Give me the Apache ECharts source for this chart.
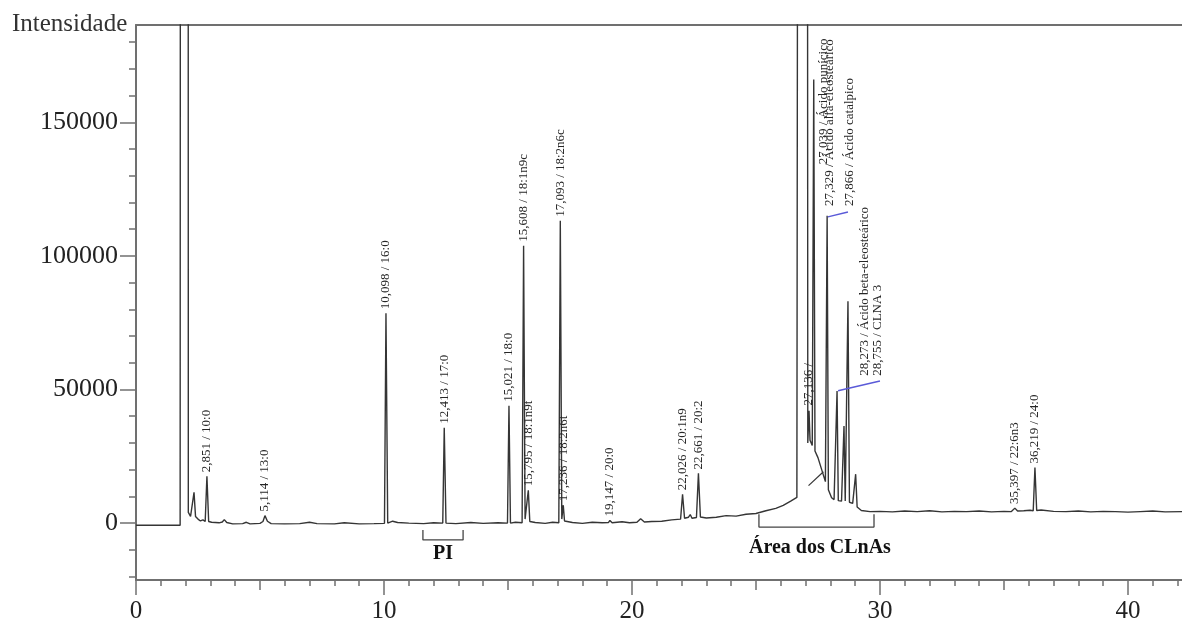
<!DOCTYPE html>
<html><head><meta charset="utf-8">
<script src="https://cdn.jsdelivr.net/npm/echarts@6/dist/echarts.min.js"></script>
<style>html,body{margin:0;padding:0;background:#fff}#c{width:1182px;height:624px}</style>
</head><body><div id="c"></div>
<script>
// ---- axis ticks / labels ----
const xLabels = [0, 10, 20, 30, 40];
const xMidTicks = [5, 15, 25, 35];
const xMinorTicks = [1,2,3,4,6,7,8,9,11,12,13,14,16,17,18,19,21,22,23,24,26,27,28,29,31,32,33,34,36,37,38,39,41,42];
const yLabels = [0, 50000, 100000, 150000];
const yMinorTicks = [-20000,-10000,10000,20000,30000,40000,60000,70000,80000,90000,110000,120000,130000,140000,160000,170000,180000];

// ---- chromatogram trace [retention time (min), intensity] ----
const trace = [
[0,-800],[1.78,-800],[1.80,-700],[1.815,1000000],[2.09,1000000],[2.11,4000],
[2.2,2500],[2.27,1800],[2.34,11500],[2.40,2500],[2.5,1500],[2.6,800],[2.7,1200],[2.79,600],[2.86,17500],[2.93,600],
[3.05,300],[3.2,200],[3.35,100],[3.48,400],[3.56,1300],[3.66,200],[3.9,-300],[4.3,-200],[4.45,300],[4.6,-300],
[5.0,-100],[5.12,600],[5.20,2800],[5.30,700],[5.45,-200],[6.0,-300],[6.6,-200],[7.0,300],[7.3,-200],[8.0,-300],
[8.4,100],[9.0,-300],[9.6,-200],[10.02,-100],[10.08,78500],[10.15,0],[10.35,700],[10.55,200],[11.0,0],[11.6,-200],
[12.0,100],[12.37,0],[12.43,35700],[12.50,0],[12.9,-200],[13.5,200],[14.0,-100],[14.6,100],[14.98,0],[15.04,43900],
[15.10,0],[15.30,300],[15.57,100],[15.63,103800],[15.69,1500],[15.76,1200],[15.82,12300],[15.88,600],[16.1,200],
[16.5,-100],[16.8,300],[17.05,100],[17.11,113100],[17.17,1500],[17.20,2000],[17.23,6700],[17.28,800],[17.6,200],
[18.0,-100],[18.4,300],[18.8,100],[19.05,200],[19.11,1000],[19.2,100],[19.6,500],[19.9,100],[20.2,300],[20.35,1600],
[20.5,400],[20.8,600],[21.2,700],[21.6,1200],[21.96,1500],[22.04,10800],[22.12,1800],[22.28,2200],[22.35,3200],
[22.42,1800],[22.6,2100],[22.68,18600],[22.76,2300],[23.0,1900],[23.4,2200],[23.8,2800],[24.2,2600],[24.6,3300],
[25.0,3600],[25.4,4600],[25.8,5500],[26.1,6600],[26.4,8200],[26.65,9600],[26.72,10200],[26.77,1000000],[27.04,1000000],
[27.09,30000],[27.14,42000],[27.18,31000],[27.27,29000],[27.33,166000],[27.38,27000],[27.5,24500],[27.65,20000],
[27.80,15500],[27.83,15000],[27.87,115000],[27.92,12500],[28.05,9500],[28.15,8800],[28.22,8600],[28.27,49400],
[28.32,8400],[28.45,8200],[28.50,8200],[28.55,36300],[28.60,8300],[28.65,8300],[28.71,83000],[28.77,7800],[28.9,7400],
[28.97,7000],[29.02,18300],[29.08,6000],[29.25,4700],[29.6,4300],[30.0,4400],[30.5,4200],[31.0,4500],[31.5,4300],
[32.0,4600],[32.5,4200],[33.0,4400],[33.5,4300],[34.0,4500],[34.5,4200],[35.0,4400],[35.3,4300],[35.44,5600],
[35.55,4500],[35.8,4600],[36.05,4800],[36.18,4600],[36.25,20800],[36.32,4700],[36.5,4900],[37.0,4400],[37.5,4300],
[38.0,4500],[38.5,4200],[39.0,4400],[39.5,4300],[40.0,4100],[40.5,4300],[41.0,4500],[41.5,4200],[42.18,4300]
];
// integration baseline under the large CLnA peak
const integrationLine = [[27.12,14000],[27.72,19200]];

// ---- peak labels anchored at peak apex [rt, intensity, text] ----
const apexLabels = [
[2.86,17500,'2,851 / 10:0'],
[5.20,2800,'5,114 / 13:0'],
[10.08,78500,'10,098 / 16:0'],
[12.43,35700,'12,413 / 17:0'],
[15.04,43900,'15,021 / 18:0'],
[15.63,103800,'15,608 / 18:1n9c'],
[15.82,12300,'15,795 / 18:1n9t'],
[17.11,113100,'17,093 / 18:2n6c'],
[17.23,6700,'17,236 / 18:2n6t'],
[19.11,1000,'19,147 / 20:0'],
[22.04,10800,'22,026 / 20:1n9'],
[22.68,18600,'22,661 / 20:2'],
[35.44,5600,'35,397 / 22:6n3'],
[36.25,20800,'36,219 / 24:0']
];
// labels set beside their peaks [rt, intensity at label start, text]
const sideLabels = [
[27.14,44000,'27,136 /'],
[27.74,134300,'27,039 / Ácido punícico'],
[27.98,118700,'27,329 / Ácido alfa-eleosteárico'],
[28.77,118700,'27,866 / Ácido catalpico'],
[29.40,55100,'28,273 / Ácido beta-eleosteárico'],
[29.92,55100,'28,755 / CLNA 3']
];
const leader1 = [[27.90,114600],[28.71,116400]];
const leader2 = [[28.31,49500],[30.0,53200]];

// ---- region brackets ----
const piBracket = [[11.57,-2600],[11.57,-6300],[13.19,-6300],[13.19,-2600]];
const clnaBracket = [[25.12,3300],[25.12,-1500],[29.76,-1500],[29.76,3300]];
const regionLabels = [[12.38,-11500,'PI'],[27.58,-9300,'Área dos CLnAs']];

const F = "'Liberation Serif','DejaVu Serif','Times New Roman',serif";
const axisCol = '#707070';
const traceCol = '#353535';
const X_MIN = 0, X_MAX = 42.18, Y_MIN = -21300, Y_MAX = 186400;

const xBase = {type:'value', min:X_MIN, max:X_MAX, splitLine:{show:false}};
const yBase = {type:'value', min:Y_MIN, max:Y_MAX, splitLine:{show:false}};
const tickStyle = {color:axisCol, width:1.5};

function lineSeries(data, color, width){
  return {type:'line', data:data, symbol:'none', showSymbol:false, clip:true, silent:true,
    lineStyle:{color:color, width:width}, z:3};
}
function labelSeries(data, dist, opts){
  return {type:'scatter', symbolSize:0, silent:true, itemStyle:{color:'transparent', opacity:1}, z:5,
    data:data.map(d=>({value:[d[0],d[1]], name:d[2]})),
    label:Object.assign({show:true, formatter:p=>p.name, position:'top', distance:dist, rotate:90,
      align:'left', verticalAlign:'middle', fontFamily:F, fontSize:13, color:'#262626', opacity:1,
      textBorderWidth:0}, opts||{})};
}

const chart = echarts.init(document.getElementById('c'));
chart.setOption({
  animation:false,
  backgroundColor:'#fff',
  title:{text:'Intensidade', left:7, top:7, textStyle:{fontFamily:F, fontSize:25, fontWeight:'normal', color:'#333'}},
  grid:{left:136, right:0, top:25, bottom:41},
  xAxis:[
    Object.assign({}, xBase, {position:'bottom',
      axisLine:{show:true, onZero:false, lineStyle:{color:axisCol, width:2}},
      axisTick:{show:true, customValues:xLabels, length:15, lineStyle:tickStyle},
      axisLabel:{show:true, customValues:xLabels, margin:19, fontFamily:F, fontSize:25, color:'#222'}}),
    Object.assign({}, xBase, {position:'bottom',
      axisLine:{show:false, onZero:false},
      axisTick:{show:true, customValues:xMidTicks, length:10, lineStyle:tickStyle},
      axisLabel:{show:false}}),
    Object.assign({}, xBase, {position:'bottom',
      axisLine:{show:false, onZero:false},
      axisTick:{show:true, customValues:xMinorTicks, length:6, lineStyle:tickStyle},
      axisLabel:{show:false}}),
    Object.assign({}, xBase, {position:'top',
      axisLine:{show:true, onZero:false, lineStyle:{color:axisCol, width:2}},
      axisTick:{show:false}, axisLabel:{show:false}})
  ],
  yAxis:[
    Object.assign({}, yBase, {position:'left',
      axisLine:{show:true, onZero:false, lineStyle:{color:axisCol, width:2}},
      axisTick:{show:true, customValues:yLabels, length:16, lineStyle:tickStyle},
      axisLabel:{show:true, customValues:yLabels, margin:18, fontFamily:F, fontSize:26, color:'#222',
        formatter:v=>String(Math.round(v))}}),
    Object.assign({}, yBase, {position:'left',
      axisLine:{show:false, onZero:false},
      axisTick:{show:true, customValues:yMinorTicks, length:7, lineStyle:tickStyle},
      axisLabel:{show:false}})
  ],
  series:[
    lineSeries(trace, traceCol, 1.4),
    lineSeries(integrationLine, traceCol, 1.2),
    lineSeries(piBracket, '#444', 1.3),
    lineSeries(clnaBracket, '#444', 1.3),
    lineSeries(leader1, '#5a5ad8', 1.5),
    lineSeries(leader2, '#5a5ad8', 1.5),
    labelSeries(apexLabels, 4),
    labelSeries(sideLabels, 0),
    {type:'scatter', symbolSize:0, silent:true, itemStyle:{color:'transparent', opacity:1}, z:5,
     data:regionLabels.map(d=>({value:[d[0],d[1]], name:d[2]})),
     label:{show:true, position:'top', distance:-10, formatter:p=>p.name, fontFamily:F, fontSize:20,
       fontWeight:'bold', color:'#111', opacity:1, textBorderWidth:0}}
  ]
});
</script></body></html>
